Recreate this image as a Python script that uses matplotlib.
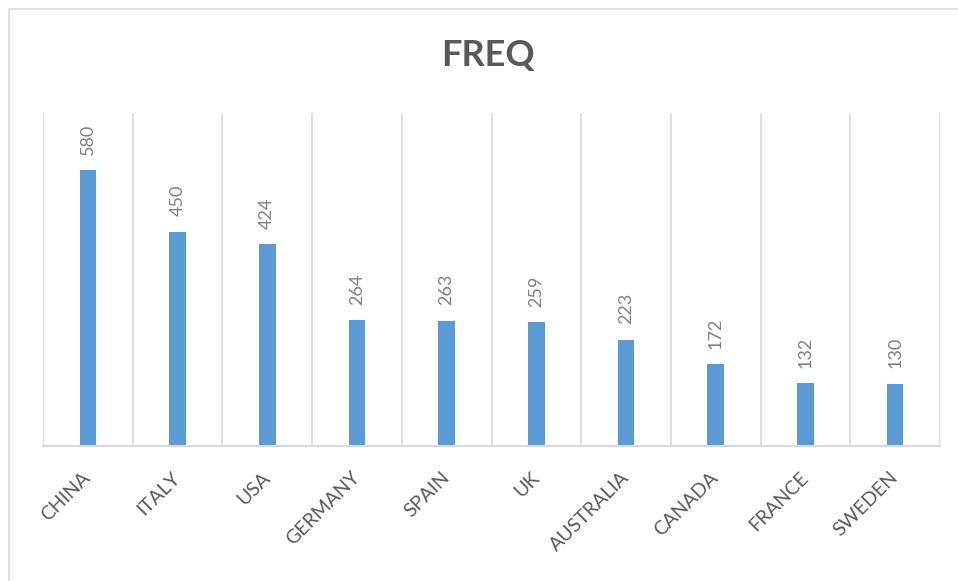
import matplotlib
matplotlib.use('Agg')
import matplotlib.pyplot as plt
from matplotlib.patches import Rectangle
import numpy as np

countries = ['CHINA', 'ITALY', 'USA', 'GERMANY', 'SPAIN', 'UK',
             'AUSTRALIA', 'CANADA', 'FRANCE', 'SWEDEN']
freq = [580, 450, 424, 264, 263, 259, 223, 172, 132, 130]

plt.rcParams['font.family'] = ['Lato', 'DejaVu Sans']

W, H = 958, 581
fig = plt.figure(figsize=(W / 100, H / 100), dpi=100)
ax = fig.add_axes([43 / W, 1 - 445.5 / H, (940 - 43) / W, (445.5 - 113) / H])

# outer chart border (only left and top are visible in the crop)
fig.patches.append(Rectangle((9 / W, -0.1), 2, 1 - 8.5 / H + 0.1,
                             transform=fig.transFigure, fill=False,
                             edgecolor='#d9d9d9', linewidth=1.2))

x = np.arange(len(countries))
bars = ax.bar(x, freq, width=0.186, color='#5b9bd5', zorder=3)

for xi, v in zip(x, freq):
    ax.annotate(str(v), (xi, v), xytext=(0, 11), textcoords='offset points',
                rotation=90, ha='center', va='bottom',
                fontsize=13, color='#808080')

ax.set_xlim(-0.5, len(countries) - 0.5)
ax.set_ylim(0, 700)
ax.set_yticks([])
ax.set_xticks(x)
ax.set_xticks(np.arange(-0.5, len(countries)), minor=True)
ax.grid(which='minor', axis='x', color='#d9d9d9', linewidth=1.2, zorder=0)
ax.tick_params(axis='x', which='both', length=0)
ax.tick_params(axis='x', which='major', pad=21)
ax.set_xticklabels(countries, rotation=45, ha='right', va='center',
                   rotation_mode='anchor', fontsize=14, color='#595959')

for s in ['top', 'right', 'left']:
    ax.spines[s].set_visible(False)
ax.spines['bottom'].set_color('#d9d9d9')
ax.spines['bottom'].set_linewidth(1.5)
ax.spines['bottom'].set_zorder(4)

fig.text(488 / W, 1 - 55.5 / H, 'FREQ', ha='center', va='center',
         fontsize=26, fontweight='bold', color='#595959')

fig.savefig('out.png', dpi=100)
